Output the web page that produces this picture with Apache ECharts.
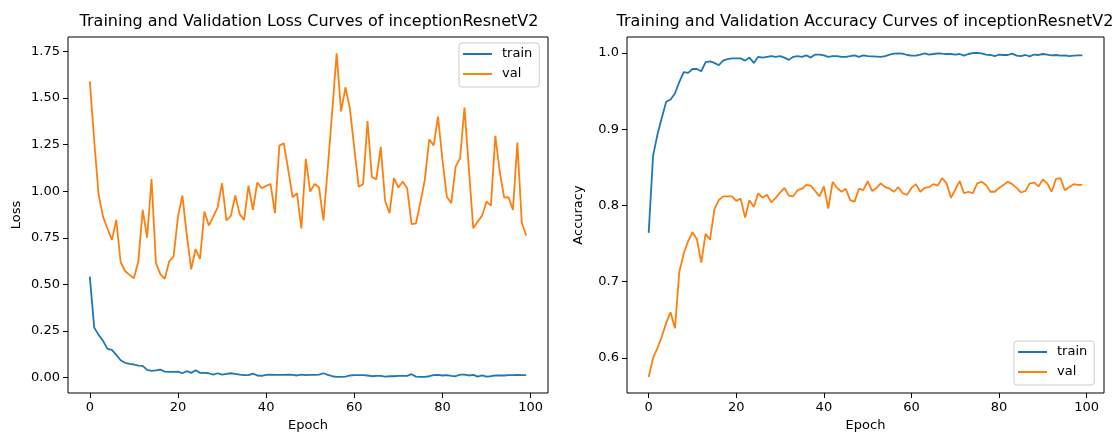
<!DOCTYPE html>
<html>
<head>
<meta charset="utf-8">
<script src="https://cdn.jsdelivr.net/npm/echarts@6/dist/echarts.min.js"></script>
<style>
  html, body { margin: 0; padding: 0; background: #fff; }
  #chart { width: 1113px; height: 433px; }
</style>
</head>
<body>
<div id="chart"></div>
<script>
// Epoch indices shared by all four curves
const epochs = [
  0, 1, 2, 3, 4, 5, 6, 7, 8, 9, 10, 11, 12, 13, 14, 15, 16, 17, 18, 19,
  20, 21, 22, 23, 24, 25, 26, 27, 28, 29, 30, 31, 32, 33, 34, 35, 36, 37, 38, 39,
  40, 41, 42, 43, 44, 45, 46, 47, 48, 49, 50, 51, 52, 53, 54, 55, 56, 57, 58, 59,
  60, 61, 62, 63, 64, 65, 66, 67, 68, 69, 70, 71, 72, 73, 74, 75, 76, 77, 78, 79,
  80, 81, 82, 83, 84, 85, 86, 87, 88, 89, 90, 91, 92, 93, 94, 95, 96, 97, 98, 99
];

const trainLoss = [
  0.542, 0.268, 0.229, 0.197, 0.154, 0.148, 0.122, 0.093, 0.079, 0.073,
  0.070, 0.064, 0.063, 0.041, 0.036, 0.039, 0.043, 0.032, 0.030, 0.030,
  0.032, 0.023, 0.034, 0.025, 0.039, 0.025, 0.025, 0.023, 0.016, 0.023,
  0.016, 0.020, 0.023, 0.020, 0.016, 0.013, 0.013, 0.021, 0.011, 0.009,
  0.014, 0.016, 0.014, 0.014, 0.014, 0.016, 0.014, 0.011, 0.016, 0.013,
  0.014, 0.014, 0.016, 0.023, 0.014, 0.007, 0.004, 0.004, 0.005, 0.011,
  0.013, 0.013, 0.013, 0.011, 0.007, 0.009, 0.009, 0.005, 0.007, 0.007,
  0.009, 0.009, 0.009, 0.018, 0.005, 0.004, 0.004, 0.007, 0.013, 0.014,
  0.011, 0.013, 0.009, 0.007, 0.016, 0.016, 0.011, 0.014, 0.005, 0.011,
  0.005, 0.007, 0.011, 0.011, 0.011, 0.013, 0.013, 0.014, 0.013, 0.013
];

const valLoss = [
  1.590, 1.270, 0.980, 0.864, 0.800, 0.739, 0.846, 0.619, 0.572, 0.551,
  0.533, 0.623, 0.900, 0.751, 1.066, 0.614, 0.555, 0.530, 0.623, 0.649,
  0.864, 0.977, 0.766, 0.581, 0.690, 0.637, 0.891, 0.816, 0.864, 0.914,
  1.043, 0.843, 0.868, 0.977, 0.877, 0.846, 1.030, 0.900, 1.047, 1.016,
  1.029, 1.039, 0.882, 1.245, 1.258, 1.118, 0.968, 0.989, 0.801, 1.174,
  0.998, 1.039, 1.021, 0.843, 1.130, 1.430, 1.741, 1.428, 1.558, 1.445,
  1.231, 1.025, 1.038, 1.377, 1.075, 1.064, 1.238, 0.948, 0.882, 1.070,
  1.020, 1.052, 1.016, 0.823, 0.828, 0.940, 1.061, 1.279, 1.245, 1.400,
  1.170, 0.971, 0.936, 1.132, 1.177, 1.449, 1.120, 0.801, 0.837, 0.869,
  0.945, 0.923, 1.297, 1.106, 0.966, 0.968, 0.900, 1.261, 0.832, 0.762
];

const trainAcc = [
  0.764, 0.865, 0.893, 0.915, 0.936, 0.939, 0.947, 0.962, 0.975, 0.974,
  0.979, 0.979, 0.976, 0.988, 0.989, 0.987, 0.984, 0.990, 0.992, 0.993,
  0.993, 0.993, 0.990, 0.994, 0.987, 0.995, 0.994, 0.995, 0.996, 0.995,
  0.996, 0.994, 0.991, 0.995, 0.996, 0.995, 0.997, 0.994, 0.998, 0.998,
  0.997, 0.995, 0.996, 0.996, 0.995, 0.995, 0.996, 0.997, 0.995, 0.997,
  0.996, 0.9956, 0.9952, 0.9948, 0.996, 0.998, 0.9991, 0.9996, 0.9991, 0.9974,
  0.9965, 0.9965, 0.998, 0.9996, 0.998, 0.9987, 0.9996, 0.9991, 0.9987, 0.9987,
  0.998, 0.9987, 0.9965, 0.9987, 1.000, 1.000, 0.9996, 0.998, 0.9974, 0.996,
  0.998, 0.9974, 0.9974, 0.9991, 0.9965, 0.996, 0.9974, 0.9956, 0.998, 0.9974,
  0.9987, 0.998, 0.997, 0.9974, 0.9965, 0.997, 0.996, 0.9965, 0.997, 0.997
];

const valAcc = [
  0.575, 0.600, 0.613, 0.628, 0.646, 0.660, 0.639, 0.713, 0.737, 0.753,
  0.765, 0.756, 0.725, 0.763, 0.755, 0.795, 0.807, 0.812, 0.812, 0.812,
  0.806, 0.809, 0.784, 0.807, 0.798, 0.816, 0.810, 0.814, 0.804, 0.810,
  0.817, 0.823, 0.813, 0.812, 0.820, 0.822, 0.827, 0.826, 0.819, 0.812,
  0.825, 0.796, 0.831, 0.823, 0.818, 0.822, 0.807, 0.805, 0.822, 0.820,
  0.832, 0.819, 0.823, 0.829, 0.824, 0.822, 0.818, 0.824, 0.816, 0.814,
  0.823, 0.828, 0.818, 0.823, 0.824, 0.828, 0.826, 0.836, 0.829, 0.810,
  0.821, 0.832, 0.816, 0.818, 0.816, 0.829, 0.831, 0.827, 0.818, 0.818,
  0.823, 0.827, 0.831, 0.828, 0.823, 0.817, 0.819, 0.829, 0.830, 0.825,
  0.834, 0.829, 0.818, 0.835, 0.836, 0.820, 0.824, 0.828, 0.827, 0.827
];

// Tick labels
const epochTicks = [0, 20, 40, 60, 80, 100];
const lossTicks = [0, 0.25, 0.5, 0.75, 1.0, 1.25, 1.5, 1.75];
const accTicks = [0.6, 0.7, 0.8, 0.9, 1.0];

const FONT = 'DejaVu Sans';
const BLUE = '#1f77b4';
const ORANGE = '#ff7f0e';

const pairs = (ys) => epochs.map((e, i) => [e, ys[i]]);

function xAxisFor(gridIndex) {
  return {
    type: 'value', gridIndex,
    min: -4.95, max: 103.95,
    name: 'Epoch', nameLocation: 'middle', nameGap: 26,
    nameTextStyle: { fontFamily: FONT, fontSize: 13, color: '#000' },
    axisLine: { show: false, onZero: false },
    axisTick: { show: true, length: 5, customValues: epochTicks, lineStyle: { color: '#000', width: 1 } },
    axisLabel: { customValues: epochTicks, margin: 8, fontFamily: FONT, fontSize: 13, color: '#000' },
    splitLine: { show: false }
  };
}

function yAxisFor(gridIndex, name, min, max, ticks, digits, gap) {
  return {
    type: 'value', gridIndex, min, max,
    name, nameLocation: 'middle', nameGap: gap, nameRotate: 90,
    nameTextStyle: { fontFamily: FONT, fontSize: 13, color: '#000' },
    axisLine: { show: false, onZero: false },
    axisTick: { show: true, length: 5, customValues: ticks, lineStyle: { color: '#000', width: 1 } },
    axisLabel: {
      customValues: ticks, margin: 8, fontFamily: FONT, fontSize: 13, color: '#000',
      formatter: (v) => v.toFixed(digits)
    },
    splitLine: { show: false }
  };
}

function legendAt(pos) {
  return Object.assign({
    orient: 'vertical',
    data: ['train', 'val'],
    icon: 'rect', itemWidth: 29, itemHeight: 2, itemGap: 6,
    padding: [4, 7, 6, 4],
    backgroundColor: 'rgba(255,255,255,0.8)',
    borderColor: '#cccccc', borderWidth: 1, borderRadius: 3,
    selectedMode: false,
    textStyle: { fontFamily: FONT, fontSize: 13, color: '#000', lineHeight: 14, padding: [0, 0, 0, 5] }
  }, pos);
}

function lineSeries(name, color, xi, data) {
  return {
    name, type: 'line', xAxisIndex: xi, yAxisIndex: xi,
    data: pairs(data), showSymbol: false, symbol: 'none',
    lineStyle: { color, width: 1.8 }, itemStyle: { color },
    z: name === 'val' ? 3 : 2
  };
}

const chart = echarts.init(document.getElementById('chart'), null, { renderer: 'canvas' });
chart.setOption({
  animation: false,
  backgroundColor: '#ffffff',
  title: [
    { text: 'Training and Validation Loss Curves of inceptionResnetV2', left: 304, top: 9, textAlign: 'center',
      textStyle: { fontFamily: FONT, fontSize: 16, fontWeight: 'normal', color: '#000' } },
    { text: 'Training and Validation Accuracy Curves of inceptionResnetV2', left: 860, top: 9, textAlign: 'center',
      textStyle: { fontFamily: FONT, fontSize: 16, fontWeight: 'normal', color: '#000' } }
  ],
  grid: [
    { left: 68, top: 37, width: 480, height: 356, outerBoundsMode: 'none', containLabel: false,
      show: true, borderColor: '#000', borderWidth: 1, backgroundColor: 'transparent' },
    { left: 627, top: 37, width: 477, height: 356, outerBoundsMode: 'none', containLabel: false,
      show: true, borderColor: '#000', borderWidth: 1, backgroundColor: 'transparent' }
  ],
  xAxis: [xAxisFor(0), xAxisFor(1)],
  yAxis: [
    yAxisFor(0, 'Loss', -0.083, 1.828, lossTicks, 2, 45),
    yAxisFor(1, 'Accuracy', 0.554, 1.021, accTicks, 1, 42)
  ],
  legend: [
    legendAt({ left: 459, top: 43 }),
    legendAt({ left: 1014, top: 341 })
  ],
  series: [
    lineSeries('train', BLUE, 0, trainLoss),
    lineSeries('val', ORANGE, 0, valLoss),
    lineSeries('train', BLUE, 1, trainAcc),
    lineSeries('val', ORANGE, 1, valAcc)
  ]
});
</script>
</body>
</html>
